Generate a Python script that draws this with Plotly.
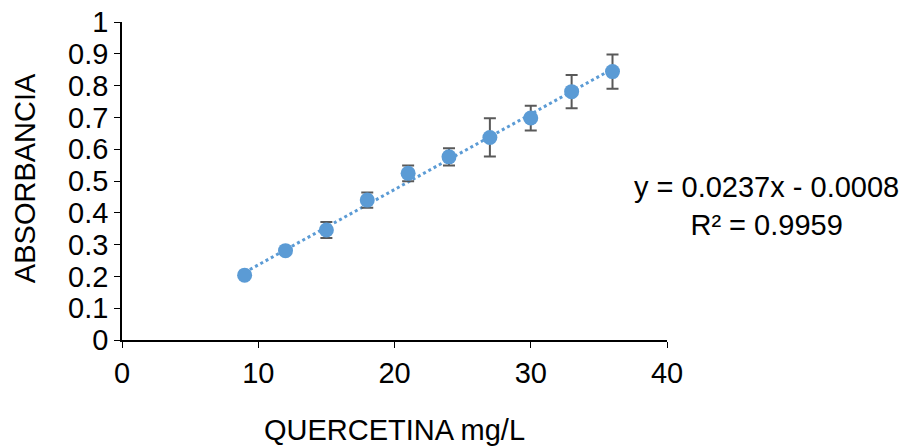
import plotly.graph_objects as go

# Calibration data: quercetin concentration vs absorbance
concentration = [9, 12, 15, 18, 21, 24, 27, 30, 33, 36]
absorbance = [0.204, 0.281, 0.346, 0.440, 0.524, 0.576, 0.637, 0.698, 0.781, 0.844]
abs_error = [0.0, 0.0, 0.025, 0.024, 0.025, 0.027, 0.060, 0.039, 0.052, 0.054]

# Linear fit reported on the chart
slope = 0.0237
intercept = -0.0008
r_squared = 0.9959

x_ticks = [0, 10, 20, 30, 40]
y_ticks = [0, 0.1, 0.2, 0.3, 0.4, 0.5, 0.6, 0.7, 0.8, 0.9, 1]

blue = "#5B9BD5"
grey = "#595959"
font_family = "Liberation Sans, Arial, sans-serif"
text_font = dict(family=font_family, size=29, color="#000000")

fit_x = [min(concentration), max(concentration)]
fit_y = [slope * v + intercept for v in fit_x]

fig = go.Figure()

fig.add_trace(go.Scatter(
    x=fit_x, y=fit_y, mode="lines",
    line=dict(color=blue, width=3, dash="dot"),
    hoverinfo="skip", showlegend=False,
))

fig.add_trace(go.Scatter(
    x=concentration, y=absorbance, mode="markers",
    marker=dict(color=blue, size=15),
    error_y=dict(type="data", array=abs_error, visible=True,
                 color=grey, thickness=2, width=6),
    showlegend=False,
))

# Trendline equation
fig.add_annotation(
    xref="paper", yref="paper", x=1.183, y=0.421,
    xanchor="center", yanchor="middle",
    text=f"y = {slope}x - {abs(intercept):.4f}<br>R² = {r_squared}",
    showarrow=False, align="center",
    font=text_font,
)

# Vertical axis title
fig.add_annotation(
    xref="paper", yref="paper", x=-0.178, y=0.509,
    xanchor="center", yanchor="middle", textangle=-90,
    text="ABSORBANCIA", showarrow=False, font=text_font,
)

fig.update_layout(
    width=904, height=446,
    margin=dict(l=122, r=237, t=22, b=106),
    plot_bgcolor="white", paper_bgcolor="white",
    font=dict(family=font_family, size=24, color="#000000"),
    xaxis=dict(
        range=[0, 40], tickvals=x_ticks, ticktext=[str(v) for v in x_ticks],
        showgrid=False, zeroline=False, showline=True, linecolor="#000000",
        linewidth=1.5, ticks="outside", ticklen=6, tickcolor="#000000",
        tickfont=text_font, automargin=False,
        title=dict(text="QUERCETINA mg/L", standoff=36, font=text_font),
    ),
    yaxis=dict(
        range=[0, 1], tickvals=y_ticks, ticktext=[f"{v:g}" for v in y_ticks],
        showgrid=False, zeroline=False, showline=True, linecolor="#000000",
        linewidth=1.5, ticks="outside", ticklen=6, tickcolor="#000000",
        tickfont=text_font, automargin=False,
    ),
)

fig.write_html("out.html")
